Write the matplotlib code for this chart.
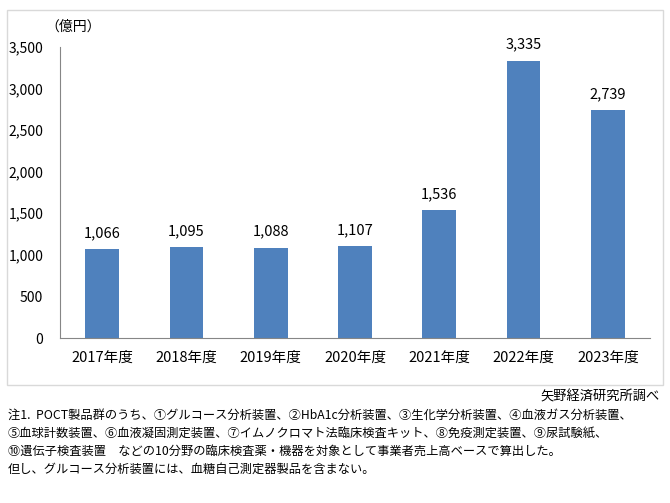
import matplotlib
matplotlib.use("Agg")
import matplotlib.pyplot as plt
from matplotlib.patches import Rectangle

plt.rcParams['font.family'] = ['Noto Sans CJK JP', 'DejaVu Sans']

years = ['2017年度', '2018年度', '2019年度', '2020年度', '2021年度', '2022年度', '2023年度']
sales = [1066, 1095, 1088, 1107, 1536, 3335, 2739]
yticks = [0, 500, 1000, 1500, 2000, 2500, 3000, 3500]

unit_label = '（億円）'
source = '矢野経済研究所調べ'
notes = [
    '注1.  POCT製品群のうち、①グルコース分析装置、②HbA1c分析装置、③生化学分析装置、④血液ガス分析装置、',
    '⑤血球計数装置、⑥血液凝固測定装置、⑦イムノクロマト法臨床検査キット、⑧免疫測定装置、⑨尿試験紙、',
    '⑩遺伝子検査装置　などの10分野の臨床検査薬・機器を対象として事業者売上高ベースで算出した。',
    '但し、グルコース分析装置には、血糖自己測定器製品を含まない。',
]

W, H = 670, 503
fig = plt.figure(figsize=(W / 100, H / 100), dpi=100)

# outer chart frame
fig.patches.append(Rectangle((7 / W, 1 - 385 / H), 656 / W, 375 / H,
                             transform=fig.transFigure, fill=False,
                             edgecolor='#d9d9d9', lw=1))

ax = fig.add_axes([60 / W, 1 - 338 / H, 590 / W, 291 / H])
x = range(len(years))
ax.bar(x, sales, width=0.4, color='#4f81bd')
for xi, v in zip(x, sales):
    ax.text(xi, v + 110, f'{v:,}', ha='center', va='bottom', fontsize=10.5)

ax.set_xlim(-0.5, len(years) - 0.5)
ax.set_ylim(0, 3500)
ax.set_yticks(yticks)
ax.set_yticklabels([f'{t:,}' for t in yticks], fontsize=10)
ax.set_xticks(list(x))
ax.set_xticklabels(years, fontsize=10.5)
ax.tick_params(axis='y', length=0, pad=12)
ax.tick_params(axis='x', length=0, pad=9)
for s in ['top', 'right']:
    ax.spines[s].set_visible(False)
ax.spines['left'].set_color('#868686')
ax.spines['bottom'].set_color('#868686')

fig.text(45 / W, 1 - 27 / H, unit_label, fontsize=10, va='center', ha='left')
fig.text(660 / W, 1 - 397 / H, source, fontsize=9.5, va='center', ha='right')
for i, line in enumerate(notes):
    fig.text(8 / W, 1 - (415 + 18 * i) / H, line, fontsize=8.8, va='center', ha='left')

plt.savefig('out.png', dpi=100)
